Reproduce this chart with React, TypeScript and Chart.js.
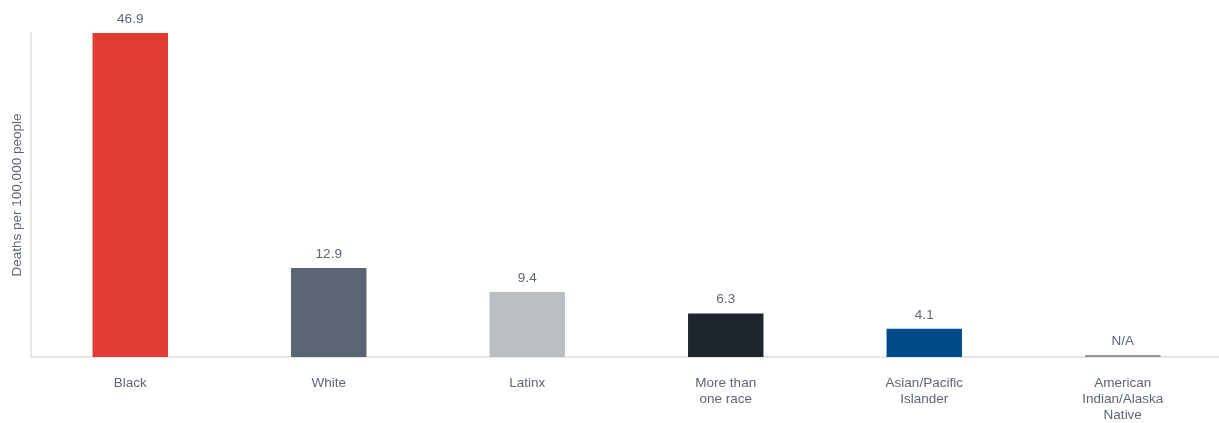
import React, { useEffect, useRef } from "react";
import { Chart, registerables } from "chart.js";

Chart.register(...registerables);

const categories: string[][] = [
  ["Black"],
  ["White"],
  ["Latinx"],
  ["More than", "one race"],
  ["Asian/Pacific", "Islander"],
  ["American", "Indian/Alaska", "Native"],
];
// last value is a placeholder stub for the N/A category
const deathRates: number[] = [46.9, 12.9, 9.4, 6.3, 4.1, 0.3];
const valueLabels: string[] = ["46.9", "12.9", "9.4", "6.3", "4.1", "N/A"];
const barColors: string[] = ["#E03C31", "#5A6472", "#BBBEC0", "#1F252D", "#004B87", "#9C958F"];

const TEXT = "#5E6672";
const FONT = "'Liberation Sans', Arial, sans-serif";

const valueLabelPlugin = {
  id: "valueLabels",
  afterDatasetsDraw(chart: any) {
    const ctx = chart.ctx;
    const meta = chart.getDatasetMeta(0);
    ctx.save();
    ctx.fillStyle = TEXT;
    ctx.font = `13.5px ${FONT}`;
    ctx.textAlign = "center";
    ctx.textBaseline = "bottom";
    meta.data.forEach((bar: any, i: number) => {
      ctx.fillText(valueLabels[i], bar.x, bar.y - 7);
    });
    ctx.restore();
  },
};

export default function App() {
  const ref = useRef<HTMLCanvasElement | null>(null);
  useEffect(() => {
    document.body.style.margin = "0";
    document.body.style.overflow = "hidden";
    if (!ref.current) return;
    const chart = new Chart(ref.current, {
      type: "bar",
      data: {
        labels: categories,
        datasets: [
          {
            data: deathRates,
            backgroundColor: barColors,
            borderWidth: 0,
            barPercentage: 0.38,
            categoryPercentage: 1,
          },
        ],
      },
      options: {
        animation: false,
        responsive: false,
        maintainAspectRatio: false,
        layout: { padding: { top: 33, left: 9, right: 0, bottom: 0 } },
        plugins: { legend: { display: false }, tooltip: { enabled: false } },
        scales: {
          x: {
            grid: { display: false },
            border: { color: "#E4E6E8", width: 2 },
            ticks: {
              color: TEXT,
              font: { family: FONT, size: 13.5, lineHeight: 1.18 },
              padding: 10,
              maxRotation: 0,
              autoSkip: false,
            },
            afterFit: (scale: any) => {
              scale.height = 66;
            },
          },
          y: {
            min: 0,
            max: 46.9,
            grid: { display: false },
            border: { color: "#E4E6E8", width: 2 },
            ticks: { display: false },
            title: {
              display: true,
              text: "Deaths per 100,000 people",
              color: TEXT,
              font: { family: FONT, size: 13.5 },
              padding: 0,
            },
            afterFit: (scale: any) => {
              scale.width = 22;
            },
          },
        },
      },
      plugins: [valueLabelPlugin],
    });
    return () => chart.destroy();
  }, []);
  return (
    <div style={{ width: 1219, height: 423, overflow: "hidden" }}>
      <canvas ref={ref} width={1222} height={423} style={{ display: "block" }} />
    </div>
  );
}
